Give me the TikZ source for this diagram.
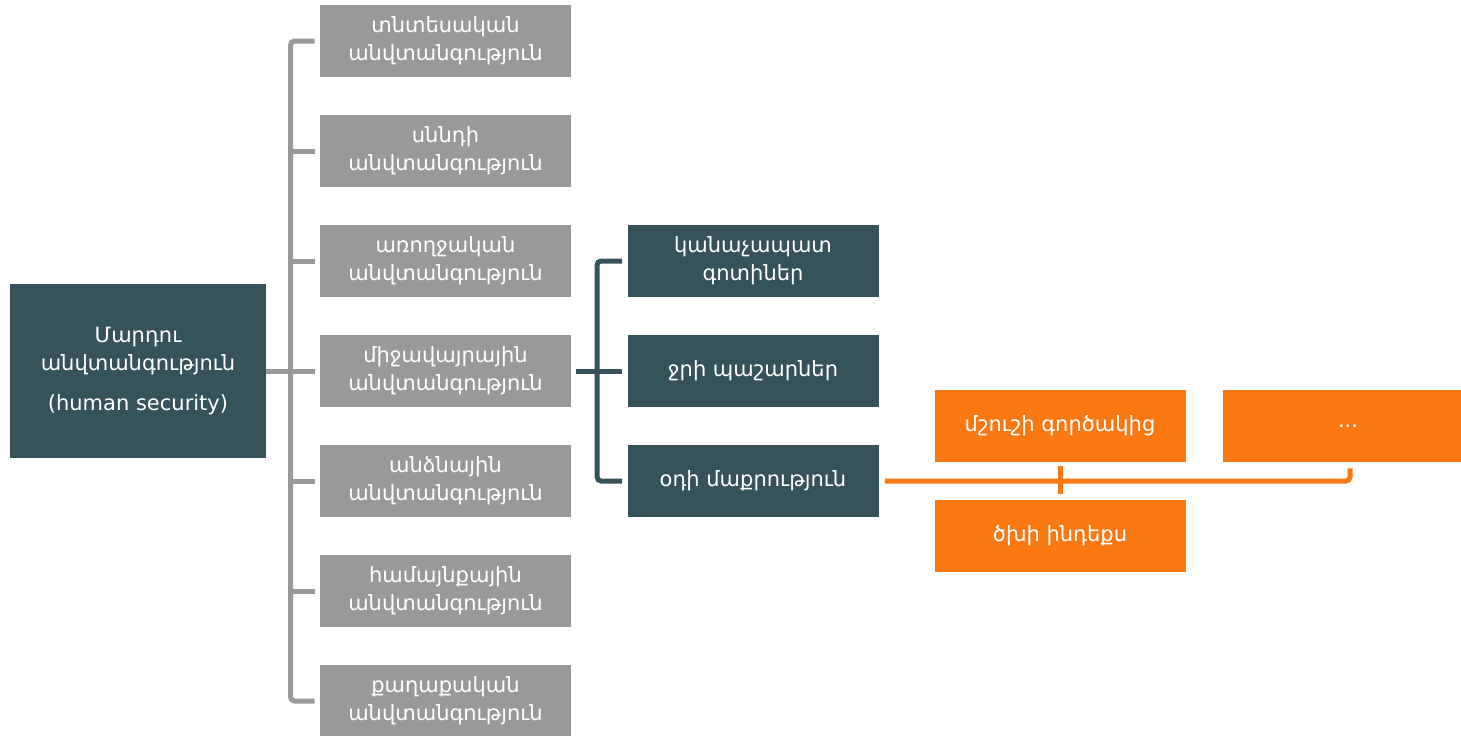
\documentclass[tikz,border=0pt]{standalone}
\usepackage{fontspec}
\setmainfont{DejaVu Sans}
\definecolor{grayc}{HTML}{999999}
\definecolor{darkc}{HTML}{36535C}
\definecolor{orangec}{HTML}{FA7812}
\begin{document}
\begin{tikzpicture}[x=0.5pt,y=-0.5pt]
\useasboundingbox (0,0) rectangle (1461,735);
\tikzset{
  box/.style={minimum width=125.5pt,minimum height=36pt,inner sep=0pt,align=center,text=white,font=\fontsize{10.5}{14}\selectfont},
  gbox/.style={box,fill=grayc},
  dbox/.style={box,fill=darkc},
  obox/.style={box,fill=orangec},
  conn/.style={line width=2.5pt,rounded corners=2pt},
  gline/.style={conn,draw=grayc},
  dline/.style={conn,draw=darkc},
  oline/.style={conn,draw=orangec}
}
% root
\node[box,fill=darkc,minimum width=128pt,minimum height=87pt] (root) at (138,371)
  {Մարդու\\անվտանգություն\\[6pt](human security)};
% gray column
\node[gbox] (g1) at (445.5,41)  {տնտեսական\\անվտանգություն};
\node[gbox] (g2) at (445.5,151) {սննդի\\անվտանգություն};
\node[gbox] (g3) at (445.5,261) {առողջական\\անվտանգություն};
\node[gbox] (g4) at (445.5,371) {միջավայրային\\անվտանգություն};
\node[gbox] (g5) at (445.5,481) {անձնային\\անվտանգություն};
\node[gbox] (g6) at (445.5,591) {համայնքային\\անվտանգություն};
\node[gbox] (g7) at (445.5,701) {քաղաքական\\անվտանգություն};
% dark column
\node[dbox] (d1) at (753,261) {կանաչապատ\\գոտիներ};
\node[dbox] (d2) at (753,371) {ջրի պաշարներ};
\node[dbox] (d3) at (753,481) {օդի մաքրություն};
% orange
\node[obox] (o1) at (1060,426) {մշուշի գործակից};
\node[obox] (o2) at (1348,426) {...};
\node[obox] (o3) at (1060,536) {ծխի ինդեքս};
% gray connectors
\draw[gline] ([xshift=-2.5pt]g1.west) -| ([xshift=-14.5pt]g7.west) -- ([xshift=-2.5pt]g7.west);
\foreach \n in {g2,g3,g5,g6}
  \draw[gline] ([xshift=-14.5pt]\n.west) -- ([xshift=-2.5pt]\n.west);
\draw[gline] (root.east) -- ([xshift=-2.5pt]g4.west);
% dark connectors
\draw[dline] ([xshift=-2.5pt]d1.west) -| ([xshift=-15pt]d3.west) -- ([xshift=-2.5pt]d3.west);
\draw[dline] ([xshift=2.5pt]g4.east) -- ([xshift=-2.5pt]d2.west);
% orange connectors
\draw[oline] ([xshift=3pt]d3.east) -| ([xshift=1pt,yshift=-3pt]o2.south);
\draw[oline] ([yshift=-2pt]o1.south) -- ([yshift=3pt]o3.north);
\end{tikzpicture}
\end{document}
